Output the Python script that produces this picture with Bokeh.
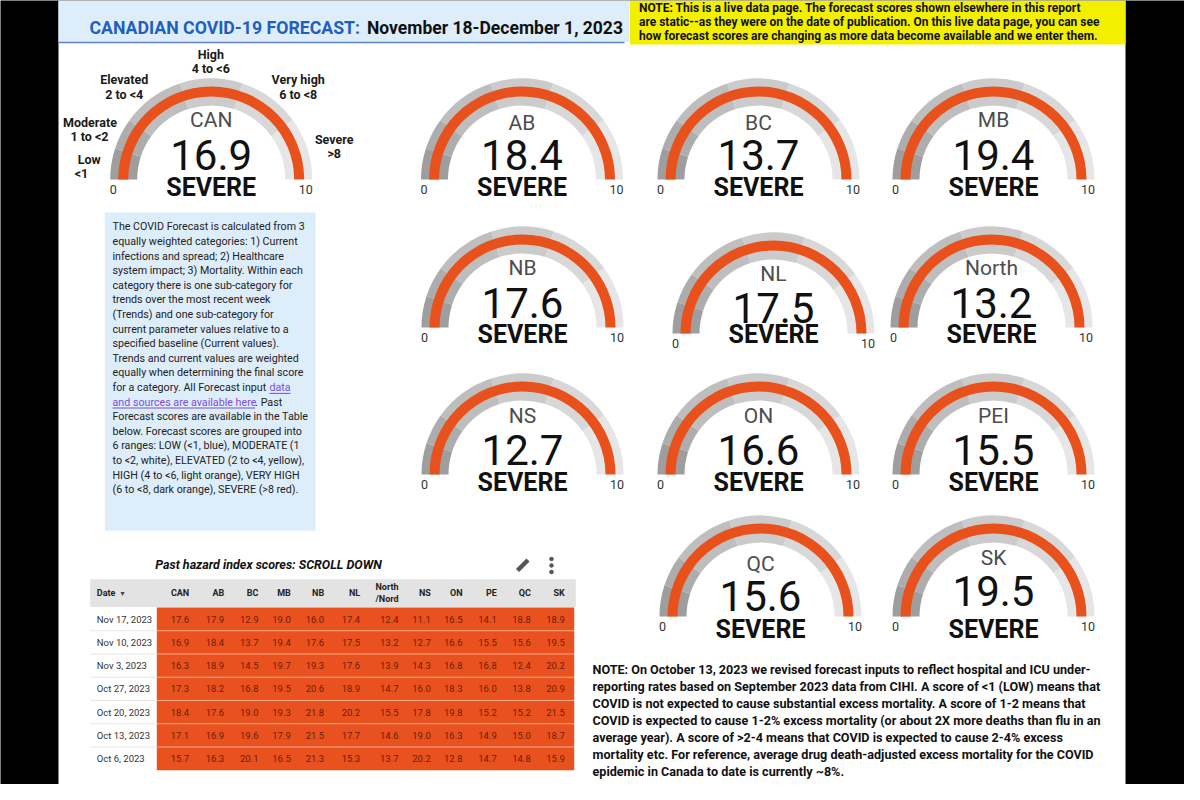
import math
from bokeh.plotting import figure
from bokeh.models import Range1d
from bokeh.core.properties import value
from bokeh.embed import file_html
from bokeh.resources import INLINE

# ---------------- data ----------------
regions = ["CAN", "AB", "BC", "MB", "NB", "NL", "North", "NS", "ON", "PEI", "QC", "SK"]
scores = [16.9, 18.4, 13.7, 19.4, 17.6, 17.5, 13.2, 12.7, 16.6, 15.5, 15.6, 19.5]
levels = ["SEVERE", "SEVERE", "SEVERE", "SEVERE", "SEVERE", "SEVERE",
          "SEVERE", "SEVERE", "SEVERE", "SEVERE", "SEVERE", "SEVERE"]
scale_min = 0
scale_max = 10
band_edges = [0, 1, 2, 4, 6, 8, 10]
band_names = ["Low", "Moderate", "Elevated", "High", "Very high", "Severe"]
band_ranges = ["<1", "1 to <2", "2 to <4", "4 to <6", "6 to <8", ">8"]

table_columns = ["CAN", "AB", "BC", "MB", "NB", "NL", "North/Nord", "NS", "ON", "PE", "QC", "SK"]
table_dates = ["Nov 17, 2023", "Nov 10, 2023", "Nov 3, 2023", "Oct 27, 2023",
               "Oct 20, 2023", "Oct 13, 2023", "Oct 6, 2023"]
nov17 = [17.6, 17.9, 12.9, 19.0, 16.0, 17.4, 12.4, 11.1, 16.5, 14.1, 18.8, 18.9]
nov10 = [16.9, 18.4, 13.7, 19.4, 17.6, 17.5, 13.2, 12.7, 16.6, 15.5, 15.6, 19.5]
nov3 = [16.3, 18.9, 14.5, 19.7, 19.3, 17.6, 13.9, 14.3, 16.8, 16.8, 12.4, 20.2]
oct27 = [17.3, 18.2, 16.8, 19.5, 20.6, 18.9, 14.7, 16.0, 18.3, 16.0, 13.8, 20.9]
oct20 = [18.4, 17.6, 19.0, 19.3, 21.8, 20.2, 15.5, 17.8, 19.8, 15.2, 15.2, 21.5]
oct13 = [17.1, 16.9, 19.6, 17.9, 21.5, 17.7, 14.6, 19.0, 16.3, 14.9, 15.0, 18.7]
oct6 = [15.7, 16.3, 20.1, 16.5, 21.3, 15.3, 13.7, 20.2, 12.8, 14.7, 14.8, 15.9]
table_rows = [nov17, nov10, nov3, oct27, oct20, oct13, oct6]

title_a = "CANADIAN COVID-19 FORECAST:"
title_b = "November 18-December 1, 2023"
table_title = "Past hazard index scores: SCROLL DOWN"
yellow_lines = [
    "NOTE: This is a live data page. The forecast scores shown elsewhere in this report",
    "are static--as they were on the date of publication. On this live data page, you can see",
    "how forecast scores are changing as more data become available and we enter them.",
]
box_lines = [
    "The COVID Forecast is calculated from 3",
    "equally weighted categories: 1) Current",
    "infections and spread; 2) Healthcare",
    "system impact; 3) Mortality. Within each",
    "category there is one sub-category for",
    "trends over the most recent week",
    "(Trends) and one sub-category for",
    "current parameter values relative to a",
    "specified baseline (Current values).",
    "Trends and current values are weighted",
    "equally when determining the final score",
    "for a category. All Forecast input",
    "",
    "Forecast scores are available in the Table",
    "below. Forecast scores are grouped into",
    "6 ranges: LOW (<1, blue), MODERATE (1",
    "to <2, white), ELEVATED (2 to <4, yellow),",
    "HIGH (4 to <6, light orange), VERY HIGH",
    "(6 to <8, dark orange), SEVERE (>8 red).",
]
link_a = "data"
link_b = "and sources are available here"
link_tail = ". Past"
note_lines = [
    "NOTE: On October 13, 2023 we revised forecast inputs to reflect hospital and ICU under-",
    "reporting rates based on September 2023 data from CIHI. A score of <1 (LOW) means that",
    "COVID is not expected to cause substantial excess mortality. A score of 1-2 means that",
    "COVID is expected to cause 1-2% excess mortality (or about 2X more deaths than flu in an",
    "average year). A score of >2-4 means that COVID is expected to cause 2-4% excess",
    "mortality etc. For reference, average drug death-adjusted excess mortality for the COVID",
    "epidemic in Canada to date is currently ~8%.",
]

# ---------------- layout (reference pixel coordinates) ----------------
gauge_cx = [218.7, 529.5, 766, 1001, 530, 781, 999, 530, 766, 1001, 768, 1001]
gauge_cy = [187, 187, 187, 187, 335, 341, 335, 482, 482, 482, 624, 624]
label_y = [127, 130, 130, 127, 275, 281, 275, 423, 423, 423, 571, 565]
value_y = [162, 162, 162, 162, 310, 315, 310, 457, 457, 457, 603, 598]
level_y = [195, 195, 195, 195, 342, 342, 342, 490, 490, 490, 637, 637]
R_OUT, R_IN = 101, 74
R_BAR_OUT, R_BAR_IN = 93, 83
band_colors = ["#9e9e9e", "#adadad", "#bebebe", "#cbcbcb", "#d8d8d8", "#e6e6e6"]
ORANGE = "#e8501c"
FONT = "Roboto"


def Y(ry):
    return 800 - ry


p = figure(width=1184, height=784, x_range=Range1d(8, 1192), y_range=Range1d(8, 792),
           output_backend="svg", toolbar_location=None, min_border=0,
           x_axis_type=None, y_axis_type=None,
           background_fill_color="black", border_fill_color="black")
p.grid.visible = False
p.outline_line_color = None


def txt(xs, ys, texts, size, color="#111111", style="normal", align="left", font=FONT):
    p.text(x=list(xs), y=[Y(v) for v in ys], text=list(texts),
           text_font=value(font), text_font_size=f"{size}px", text_font_style=style,
           text_color=color, text_align=align, text_baseline="middle")


# white page area between the black side borders (borders come from the black background)
p.quad(left=[66], right=[1133], bottom=[Y(792)], top=[Y(8)], fill_color="white", line_color=None)

# header
p.quad(left=[66], right=[637], bottom=[Y(49.5)], top=[Y(8)], fill_color="#deedfa", line_color=None)
p.segment(x0=[66], y0=[Y(50)], x1=[632], y1=[Y(50)], line_color="#5f82c6", line_width=1.5)
txt([97], [35], [title_a], 17.7, color="#1f5fbf", style="bold")
txt([374.5], [35], [title_b], 17.5, color="#111111", style="bold")

# yellow note
p.quad(left=[637.5], right=[1133], bottom=[Y(52)], top=[Y(8)], fill_color="#f3ef00", line_color=None)
txt([646.5] * 3, [15, 29.5, 43.5], yellow_lines, 12, color="#111111", style="bold")

# ---------------- gauges ----------------
wx, wy, ws, we, wc = [], [], [], [], []
for cx, cy in zip(gauge_cx, gauge_cy):
    for k in range(len(band_edges) - 1):
        wx.append(cx)
        wy.append(Y(cy))
        ws.append(math.pi * (1 - band_edges[k + 1] / scale_max))
        we.append(math.pi * (1 - band_edges[k] / scale_max))
        wc.append(band_colors[k])
p.annular_wedge(x=wx, y=wy, inner_radius=R_IN, outer_radius=R_OUT, start_angle=ws, end_angle=we,
                fill_color=wc, line_color=None)

bs = [math.pi * (1 - min(max(s, scale_min), scale_max) / scale_max) for s in scores]
p.annular_wedge(x=gauge_cx, y=[Y(c) for c in gauge_cy], inner_radius=R_BAR_IN, outer_radius=R_BAR_OUT,
                start_angle=bs, end_angle=[math.pi] * len(scores), fill_color=ORANGE, line_color=None)

txt(gauge_cx, label_y, regions, 21, color="#4d4d4d", align="center")
txt(gauge_cx, value_y, [f"{s:.1f}" for s in scores], 42, color="#111111", align="center")
txt(gauge_cx, level_y, levels, 25, color="#111111", style="bold", align="center")
txt([c - 98 for c in gauge_cx], [c + 10 for c in gauge_cy], [str(scale_min)] * len(scores), 12.5,
    color="#333333", align="center")
txt([c + 94.5 for c in gauge_cx], [c + 10 for c in gauge_cy], [str(scale_max)] * len(scores), 12.5,
    color="#333333", align="center")

# band legend around CAN gauge
bn_x = [96.7, 97.5, 131.7, 218.3, 305.7, 341.7]
bn_y = [166.7, 130, 87.3, 61.7, 87.3, 146.7]
br_x = [89, 97, 131.7, 218.3, 305.7, 341.7]
txt(bn_x, bn_y, band_names, 12.5, color="#1a1a1a", style="bold", align="center")
txt(br_x, [v + 14.3 for v in bn_y], band_ranges, 12.5, color="#1a1a1a", style="bold", align="center")

# ---------------- description box ----------------
BOX_FS = 10.7
p.quad(left=[112.3], right=[323], bottom=[Y(538.3)], top=[Y(220)], fill_color="#deedfa", line_color=None)
line_ys = [234.3 + 14.6 * i for i in range(len(box_lines))]
txt([120] * len(box_lines), line_ys, box_lines, BOX_FS, color="#222222")
PURPLE = "#7c4ddb"
txt([277], [line_ys[11]], [link_a], BOX_FS, color=PURPLE)
txt([120], [line_ys[12]], [link_b], BOX_FS, color=PURPLE)
txt([262.7], [line_ys[12]], [link_tail], BOX_FS, color="#222222")
p.segment(x0=[277, 120], y0=[Y(line_ys[11] + 6), Y(line_ys[12] + 6)],
          x1=[298, 262.7], y1=[Y(line_ys[11] + 6), Y(line_ys[12] + 6)],
          line_color=PURPLE, line_width=1)

# ---------------- table ----------------
txt([162.7], [572], [table_title], 12.5, color="#111111", style="bold italic")
# pencil icon and menu dots
p.segment(x0=[525], y0=[Y(578)], x1=[535.5], y1=[Y(567.5)], line_color="#555555", line_width=4.5)
p.scatter(x=[559, 559, 559], y=[Y(566.5), Y(573), Y(579.5)], size=3.6, color="#555555", marker="circle")

T_LEFT, T_RIGHT, CELL_LEFT = 97.7, 583.3, 164.3
H_TOP, H_BOT = 586.7, 614.5
ROW_H = (777.7 - 615) / len(table_dates)
p.quad(left=[T_LEFT], right=[T_RIGHT], bottom=[Y(H_BOT)], top=[Y(H_TOP)], fill_color="#e3e3e3", line_color=None)
p.quad(left=[CELL_LEFT], right=[581.7], bottom=[Y(615 + ROW_H * len(table_dates))], top=[Y(615)],
       fill_color="#e9521e", line_color=None)

col_right = [196.7, 231.7, 266, 298.3, 331.7, 367.7, 406, 438.3, 470, 504.3, 538.3, 572.3]
hdr_x, hdr_y, hdr_t = [], [], []
for c, name in zip(col_right, table_columns):
    if "/" in name:
        a, b = name.split("/")
        hdr_x += [c, c]
        hdr_y += [594, 606]
        hdr_t += [a, "/" + b]
    else:
        hdr_x.append(c)
        hdr_y.append(600.7)
        hdr_t.append(name)
txt(hdr_x, hdr_y, hdr_t, 9, color="#222222", style="bold", align="right")
txt([104.3], [600.7], ["Date"], 9, color="#222222", style="bold")
txt([130], [600.7], ["\u25be"], 8, color="#444444", align="center", font="DejaVu Sans")

row_c = [615 + ROW_H * (i + 0.5) for i in range(len(table_dates))]
txt([104.3] * len(table_dates), row_c, table_dates, 9.5, color="#333333")
vx, vy, vt = [], [], []
for rc, row in zip(row_c, table_rows):
    for c, v in zip(col_right, row):
        vx.append(c)
        vy.append(rc)
        vt.append(f"{v:.1f}")
txt(vx, vy, vt, 9.5, color="#6d1b08", align="right")

sep = [615 + ROW_H * k for k in range(1, len(table_dates))]
p.segment(x0=[T_LEFT] * len(sep), y0=[Y(s) for s in sep], x1=[CELL_LEFT] * len(sep), y1=[Y(s) for s in sep],
          line_color="#e6e6e6", line_width=1)
p.segment(x0=[CELL_LEFT] * len(sep), y0=[Y(s) for s in sep], x1=[581.7] * len(sep), y1=[Y(s) for s in sep],
          line_color="#f4ab8d", line_width=1)

# ---------------- bottom note ----------------
txt([600] * len(note_lines), [677 + 17 * i for i in range(len(note_lines))], note_lines, 12.6,
    color="#111111", style="bold")

open("out.html", "w").write(file_html(p, INLINE))
